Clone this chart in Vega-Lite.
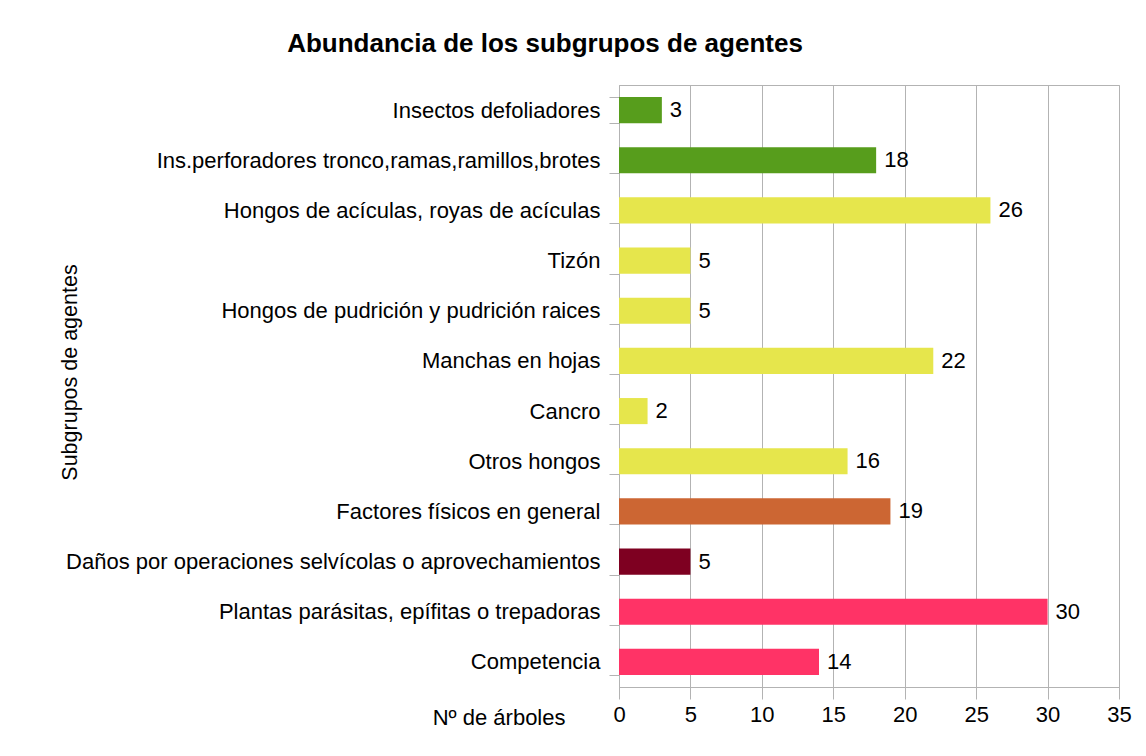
{
  "$schema": "https://vega.github.io/schema/vega-lite/v6.json",
  "autosize": "none",
  "width": 500,
  "height": 602,
  "padding": {"left": 619, "top": 85, "right": 27, "bottom": 69},
  "background": "white",
  "config": {
    "font": "Liberation Sans",
    "view": {"stroke": "#b3b3b3", "strokeWidth": 1}
  },
  "title": {
    "text": "Abundancia de los subgrupos de agentes",
    "font": "Liberation Sans",
    "fontSize": 26,
    "fontWeight": "bold",
    "color": "black",
    "anchor": "middle",
    "dx": -324,
    "offset": 17
  },
  "data": {
    "values": [
      {"agente": "Insectos defoliadores", "grupo": "Insectos", "n": 3},
      {"agente": "Ins.perforadores tronco,ramas,ramillos,brotes", "grupo": "Insectos", "n": 18},
      {"agente": "Hongos de acículas, royas de acículas", "grupo": "Hongos", "n": 26},
      {"agente": "Tizón", "grupo": "Hongos", "n": 5},
      {"agente": "Hongos de pudrición y pudrición raices", "grupo": "Hongos", "n": 5},
      {"agente": "Manchas en hojas", "grupo": "Hongos", "n": 22},
      {"agente": "Cancro", "grupo": "Hongos", "n": 2},
      {"agente": "Otros hongos", "grupo": "Hongos", "n": 16},
      {"agente": "Factores físicos en general", "grupo": "Abióticos", "n": 19},
      {"agente": "Daños por operaciones selvícolas o aprovechamientos", "grupo": "Selvícolas", "n": 5},
      {"agente": "Plantas parásitas, epífitas o trepadoras", "grupo": "Plantas", "n": 30},
      {"agente": "Competencia", "grupo": "Plantas", "n": 14}
    ]
  },
  "encoding": {
    "y": {
      "field": "agente",
      "type": "nominal",
      "sort": null,
      "scale": {"paddingInner": 0.48, "paddingOuter": 0.24},
      "axis": {
        "title": "Subgrupos de agentes",
        "titleFont": "Liberation Sans",
        "titleFontSize": 21.5,
        "titleFontWeight": "normal",
        "titleColor": "black",
        "titleX": -549,
        "titleY": 287,
        "titleAngle": -90,
        "titleAlign": "center",
        "titleBaseline": "middle",
        "labelFont": "Liberation Sans",
        "labelFontSize": 22,
        "labelColor": "black",
        "labelPadding": 9,
        "labelLimit": 700,
        "tickBand": "extent",
        "tickSize": 10,
        "tickColor": "#b3b3b3",
        "domainColor": "#b3b3b3",
        "grid": false
      }
    },
    "x": {
      "field": "n",
      "type": "quantitative",
      "scale": {"domain": [0, 35], "nice": false},
      "axis": {
        "title": "Nº de árboles",
        "titleFont": "Liberation Sans",
        "titleFontSize": 22,
        "titleFontWeight": "normal",
        "titleColor": "black",
        "titleX": -54,
        "titleY": 37,
        "titleAlign": "right",
        "titleBaseline": "alphabetic",
        "values": [0, 5, 10, 15, 20, 25, 30, 35],
        "labelFont": "Liberation Sans",
        "labelFontSize": 22,
        "labelColor": "black",
        "labelPadding": 5,
        "labelFlush": false,
        "tickSize": 12,
        "tickColor": "#b3b3b3",
        "domainColor": "#b3b3b3",
        "grid": true,
        "gridColor": "#b3b3b3"
      }
    }
  },
  "layer": [
    {
      "mark": {"type": "bar"},
      "encoding": {
        "color": {
          "field": "grupo",
          "type": "nominal",
          "scale": {
            "domain": ["Insectos", "Hongos", "Abióticos", "Selvícolas", "Plantas"],
            "range": ["#579d1c", "#e6e64c", "#cc6633", "#7e0021", "#ff3366"]
          },
          "legend": null
        }
      }
    },
    {
      "mark": {"type": "text", "align": "left", "baseline": "middle", "dx": 8, "fontSize": 22, "font": "Liberation Sans", "color": "black"},
      "encoding": {
        "text": {"field": "n", "type": "quantitative"}
      }
    }
  ]
}
